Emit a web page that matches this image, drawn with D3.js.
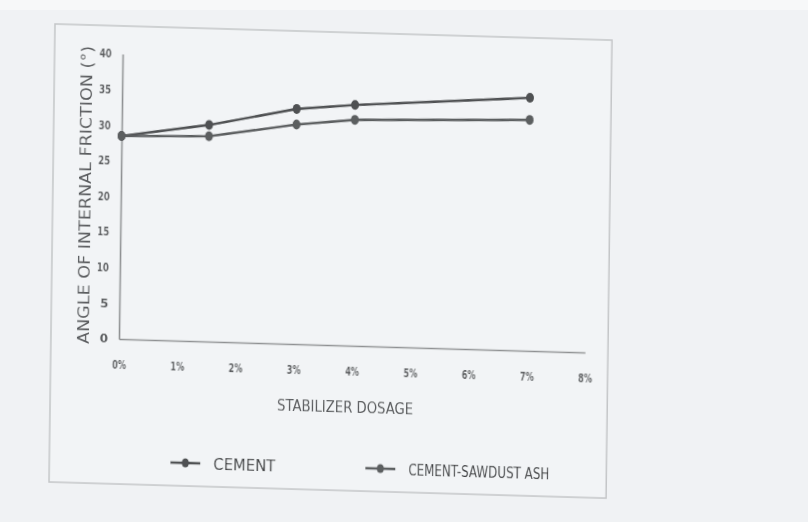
<!DOCTYPE html>
<html><head><meta charset="utf-8">
<script src="https://cdn.jsdelivr.net/npm/d3@7"></script>
<style>
html,body{margin:0;padding:0;background:#f0f2f4;}
svg{display:block;}
text{font-family:"DejaVu Sans","Liberation Sans",sans-serif;}
</style></head>
<body>
<script>
const dosage = [0, 1.5, 3, 4, 7];
const cement = [28.5, 30.4, 33.0, 33.8, 35.5];
const cementSawdust = [28.5, 28.8, 30.8, 31.7, 32.4];
const xTicks = [0,1,2,3,4,5,6,7,8];
const yTicks = [0,5,10,15,20,25,30,35,40];
const seriesNames = ["CEMENT", "CEMENT-SAWDUST ASH"];

const W = 808, H = 522;
const svg = d3.select("body").append("svg").attr("width", W).attr("height", H);
svg.append("rect").attr("width", W).attr("height", H).attr("fill", "#f0f2f4");
svg.append("rect").attr("width", W).attr("height", 10).attr("fill", "#f7f8f9");

const defs = svg.append("defs");
defs.append("filter").attr("id","soft").append("feGaussianBlur").attr("stdDeviation",0.55);

// scanned page is slightly skewed/rotated
const g = svg.append("g")
  .attr("transform", "matrix(1,0.029,-0.013,1,55,24)")
  .attr("filter","url(#soft)");

const FW = 557, FH = 458;
g.append("rect").attr("x",0).attr("y",0).attr("width",FW).attr("height",FH)
  .attr("fill","#f2f4f6").attr("stroke","#c4c6c8").attr("stroke-width",1.5);

const x = d3.scaleLinear().domain([0,8]).range([68,534]);
const y = d3.scaleLinear().domain([0,40]).range([313,28]);

// axes
const yAxis = g.append("g").attr("transform","translate(68,0)")
  .call(d3.axisLeft(y).tickValues(yTicks).tickSize(0).tickPadding(11).tickFormat(d3.format("d")));
const xAxis = g.append("g").attr("transform","translate(0,313)")
  .call(d3.axisBottom(x).tickValues(xTicks).tickSize(0).tickPadding(21).tickFormat(d => d + "%"));
[yAxis, xAxis].forEach(a => {
  a.select(".domain").attr("stroke","#8f9193").attr("stroke-width",1.6);
  a.selectAll("text").attr("fill","#5a5c5e").attr("font-size",12)
    .attr("font-family","DejaVu Sans").attr("font-weight",600);
});
xAxis.selectAll("text").attr("textLength",14).attr("lengthAdjust","spacingAndGlyphs");
yAxis.selectAll("text").each(function(d){
  if (d >= 10) d3.select(this).attr("textLength",12).attr("lengthAdjust","spacingAndGlyphs");
});

// axis titles
g.append("text").attr("x",295).attr("y",380).attr("text-anchor","middle")
  .attr("font-size",15).attr("fill","#5a5c5e")
  .attr("textLength",136).attr("lengthAdjust","spacingAndGlyphs").text("STABILIZER DOSAGE");
g.append("text").attr("transform","translate(32,170) rotate(-90)")
  .attr("text-anchor","middle").attr("dominant-baseline","central")
  .attr("font-size",16).attr("fill","#5a5c5e")
  .attr("textLength",298).attr("lengthAdjust","spacingAndGlyphs")
  .text("ANGLE OF INTERNAL FRICTION (°)");

// series
const series = [
  {name: seriesNames[0], values: cement, color: "#4f5153", tl: 62},
  {name: seriesNames[1], values: cementSawdust, color: "#5c5e60", tl: 141}
];
const line = d3.line().x(d => x(d[0])).y(d => y(d[1]));
series.forEach(s => {
  const pts = dosage.map((d,i) => [d, s.values[i]]);
  g.append("path").datum(pts).attr("d", line).attr("fill","none")
    .attr("stroke", s.color).attr("stroke-width", 2.6);
  g.selectAll(null).data(pts).enter().append("ellipse")
    .attr("cx", d => x(d[0])).attr("cy", d => y(d[1]))
    .attr("rx", 4).attr("ry", 5).attr("fill", s.color);
});

// legend
const legendPos = [{u:121, v:435, tu:164}, {u:316, v:435, tu:359}];
series.forEach((s,i) => {
  const p = legendPos[i];
  const lg = g.append("g");
  lg.append("line").attr("x1",p.u).attr("x2",p.u+30).attr("y1",p.v).attr("y2",p.v)
    .attr("stroke",s.color).attr("stroke-width",2.6);
  lg.append("ellipse").attr("cx",p.u+15).attr("cy",p.v).attr("rx",3.5).attr("ry",4.5)
    .attr("fill",s.color);
  lg.append("text").attr("x",p.tu).attr("y",p.v).attr("dominant-baseline","central")
    .attr("font-size",16).attr("fill","#3f4143")
    .attr("textLength",s.tl).attr("lengthAdjust","spacingAndGlyphs").text(s.name);
});
</script>
</body></html>
